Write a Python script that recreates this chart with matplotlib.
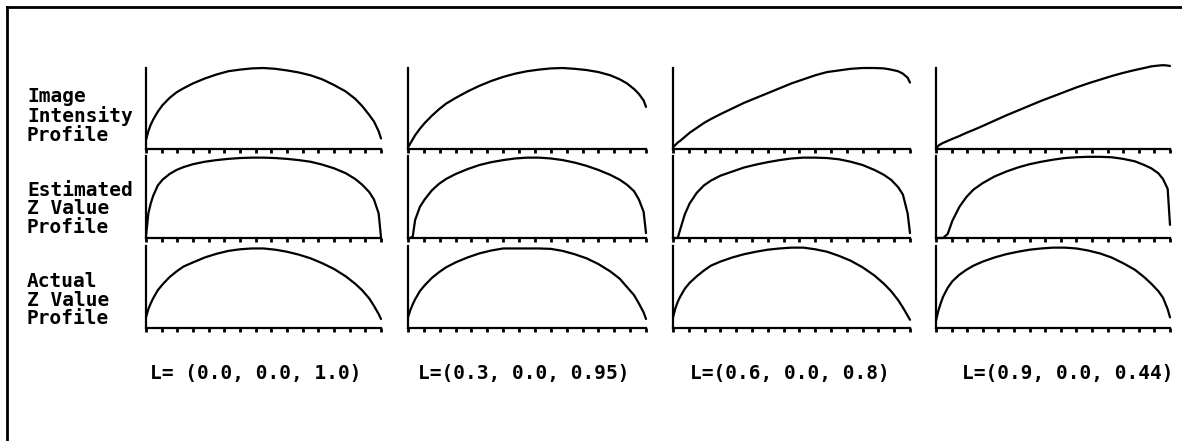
import matplotlib.pyplot as plt
from matplotlib.lines import Line2D
import numpy as np

# sample positions along each profile (fraction of the scan line)
x = [0, 0.01, 0.02, 0.03, 0.05, 0.07, 0.1, 0.13, 0.16, 0.2, 0.25, 0.3, 0.35, 0.4, 0.45,
     0.5, 0.55, 0.6, 0.65, 0.7, 0.75, 0.8, 0.85, 0.89, 0.92, 0.95, 0.97, 0.99, 1.0]

# image intensity profiles, one per light direction
intensity_1 = [0.11, 0.22, 0.30, 0.36, 0.46, 0.54, 0.63, 0.70, 0.75, 0.81, 0.87, 0.92, 0.96, 0.98, 0.995,
               1.0, 0.99, 0.97, 0.945, 0.91, 0.86, 0.79, 0.71, 0.62, 0.53, 0.42, 0.34, 0.22, 0.13]
intensity_2 = [0.02, 0.07, 0.12, 0.17, 0.25, 0.32, 0.41, 0.49, 0.56, 0.63, 0.71, 0.78, 0.84, 0.89, 0.93,
               0.96, 0.98, 0.995, 1.0, 0.99, 0.975, 0.95, 0.91, 0.86, 0.81, 0.74, 0.68, 0.60, 0.52]
intensity_3 = [0.02, 0.05, 0.08, 0.10, 0.15, 0.20, 0.26, 0.32, 0.37, 0.43, 0.50, 0.57, 0.63, 0.69, 0.75,
               0.81, 0.86, 0.91, 0.95, 0.97, 0.99, 1.0, 1.0, 0.995, 0.98, 0.96, 0.93, 0.88, 0.82]
intensity_4 = [0.0, 0.04, 0.06, 0.075, 0.10, 0.125, 0.16, 0.20, 0.235, 0.285, 0.35, 0.415, 0.475, 0.535, 0.595,
               0.65, 0.705, 0.76, 0.81, 0.855, 0.90, 0.94, 0.975, 1.0, 1.02, 1.03, 1.035, 1.03, 1.025]

# estimated Z value profiles
estimated_1 = [0.02, 0.30, 0.42, 0.51, 0.64, 0.71, 0.78, 0.83, 0.865, 0.90, 0.93, 0.95, 0.965, 0.975, 0.98,
               0.98, 0.975, 0.965, 0.95, 0.93, 0.895, 0.85, 0.79, 0.72, 0.65, 0.56, 0.47, 0.30, 0.01]
estimated_2 = [0.0, 0.0, 0.02, 0.22, 0.38, 0.47, 0.58, 0.66, 0.72, 0.78, 0.84, 0.89, 0.925, 0.95, 0.97,
               0.98, 0.98, 0.97, 0.95, 0.92, 0.88, 0.83, 0.77, 0.71, 0.65, 0.57, 0.47, 0.32, 0.06]
estimated_3 = [0.0, 0.0, 0.0, 0.10, 0.29, 0.42, 0.55, 0.64, 0.70, 0.76, 0.81, 0.86, 0.895, 0.925, 0.95,
               0.97, 0.98, 0.98, 0.975, 0.96, 0.93, 0.89, 0.83, 0.77, 0.71, 0.62, 0.53, 0.30, 0.06]
estimated_4 = [0.0, 0.0, 0.0, 0.0, 0.05, 0.21, 0.38, 0.50, 0.59, 0.67, 0.75, 0.81, 0.86, 0.90, 0.93,
               0.955, 0.975, 0.985, 0.99, 0.99, 0.985, 0.965, 0.935, 0.89, 0.85, 0.79, 0.72, 0.60, 0.16]

# actual Z value profiles
actual_1 = [0.13, 0.23, 0.30, 0.36, 0.46, 0.53, 0.62, 0.69, 0.75, 0.80, 0.86, 0.905, 0.94, 0.96, 0.97,
            0.97, 0.955, 0.93, 0.895, 0.85, 0.79, 0.72, 0.63, 0.54, 0.46, 0.36, 0.27, 0.17, 0.11]
actual_2 = [0.13, 0.22, 0.29, 0.35, 0.45, 0.52, 0.61, 0.68, 0.74, 0.80, 0.86, 0.91, 0.945, 0.97, 0.97,
            0.97, 0.97, 0.965, 0.94, 0.90, 0.85, 0.78, 0.69, 0.60, 0.50, 0.40, 0.30, 0.19, 0.11]
actual_3 = [0.13, 0.24, 0.32, 0.38, 0.48, 0.55, 0.63, 0.70, 0.76, 0.81, 0.86, 0.90, 0.93, 0.955, 0.97,
            0.98, 0.98, 0.96, 0.93, 0.88, 0.82, 0.74, 0.64, 0.54, 0.45, 0.34, 0.25, 0.15, 0.10]
actual_4 = [0.09, 0.21, 0.30, 0.38, 0.49, 0.57, 0.65, 0.71, 0.76, 0.81, 0.86, 0.90, 0.93, 0.955, 0.97,
            0.98, 0.98, 0.97, 0.945, 0.91, 0.86, 0.79, 0.71, 0.62, 0.54, 0.45, 0.37, 0.23, 0.13]

row_labels = ['Image\nIntensity\nProfile', 'Estimated\nZ Value\nProfile', 'Actual\nZ Value\nProfile']
light_labels = ['L= (0.0, 0.0, 1.0)', 'L=(0.3, 0.0, 0.95)', 'L=(0.6, 0.0, 0.8)', 'L=(0.9, 0.0, 0.44)']

rows = [[intensity_1, intensity_2, intensity_3, intensity_4],
        [estimated_1, estimated_2, estimated_3, estimated_4],
        [actual_1, actual_2, actual_3, actual_4]]

W, H = 1182, 441
fig = plt.figure(figsize=(W / 100, H / 100), dpi=100)

col_px = [(146, 381), (408, 646), (673, 910), (936, 1170)]
row_px = [(68, 149), (156, 238), (246, 328)]
label_y = [116, 209, 300]
mono = 'DejaVu Sans Mono'

for r, (top, bot) in enumerate(row_px):
    for c, (left, right) in enumerate(col_px):
        ax = fig.add_axes([left / W, 1 - bot / H, (right - left) / W, (bot - top) / H])
        ax.plot(x, rows[r][c], color='black', lw=1.6, clip_on=False,
                solid_capstyle='round', solid_joinstyle='round')
        ax.set_xlim(0, 1)
        ax.set_ylim(0, 1)
        for s in ['top', 'right']:
            ax.spines[s].set_visible(False)
        ax.spines['left'].set_linewidth(1.6)
        ax.spines['bottom'].set_linewidth(1.6)
        ax.set_xticks(np.linspace(0, 1, 16))
        ax.set_xticklabels([])
        ax.set_yticks([])
        ax.tick_params(axis='x', direction='out', length=3, width=2)
    fig.text(27 / W, 1 - label_y[r] / H, row_labels[r], family=mono, weight='bold',
             fontsize=14, ha='left', va='center', linespacing=0.98)

label_x = [150, 418, 690, 962]
for c in range(4):
    fig.text(label_x[c] / W, 1 - 374 / H, light_labels[c], family=mono, weight='bold',
             fontsize=14, ha='left', va='center')

# scanned page border (top and left only)
fig.add_artist(Line2D([7 / W, 1], [1 - 7 / H, 1 - 7 / H], color='black', lw=2))
fig.add_artist(Line2D([7 / W, 7 / W], [0, 1 - 7 / H], color='black', lw=2))

fig.savefig('out.png', dpi=100)
